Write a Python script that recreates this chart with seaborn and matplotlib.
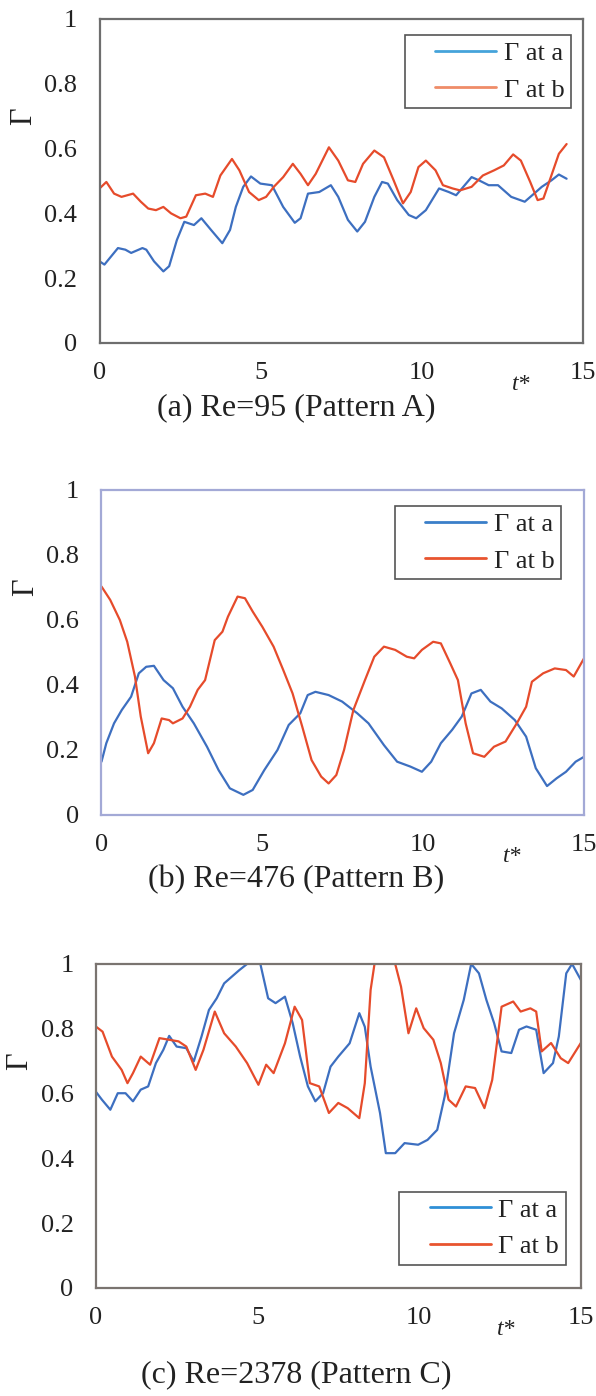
import numpy as np
import pandas as pd
import matplotlib.pyplot as plt
import seaborn as sns
from matplotlib.lines import Line2D
from matplotlib.legend_handler import HandlerLine2D
from matplotlib import transforms

sns.set_style('white')
plt.rcParams['font.family'] = ['Liberation Serif', 'DejaVu Serif']

# (a) Re=95 - Gamma at a / at b vs t*
t_a_a = [0, 0.15, 0.57, 0.8, 0.98, 1.33, 1.45, 1.69, 1.98, 2.16, 2.4, 2.63, 2.93, 3.16, 3.46,
         3.81, 4.05, 4.23, 4.46, 4.7, 4.99, 5.35, 5.7, 6.06, 6.24, 6.47, 6.82, 7.18, 7.41, 7.71,
         8.0, 8.24, 8.53, 8.77, 8.95, 9.24, 9.6, 9.83, 10.13, 10.54, 10.84, 11.07, 11.25, 11.55,
         11.78, 12.08, 12.37, 12.78, 13.2, 13.49, 13.73, 14.03, 14.26, 14.5]
g_a_a = [0.252, 0.242, 0.293, 0.288, 0.278, 0.293, 0.288, 0.252, 0.221, 0.237, 0.318, 0.374, 0.364,
         0.385, 0.349, 0.308, 0.349, 0.420, 0.482, 0.514, 0.492, 0.487, 0.420, 0.371, 0.385, 0.461,
         0.466, 0.487, 0.451, 0.380, 0.344, 0.374, 0.451, 0.497, 0.492, 0.441, 0.395, 0.385, 0.410,
         0.477, 0.466, 0.456, 0.477, 0.512, 0.502, 0.487, 0.487, 0.451, 0.436, 0.461, 0.482, 0.502,
         0.520, 0.507]
t_a_b = [0, 0.21, 0.45, 0.68, 1.04, 1.28, 1.51, 1.75, 1.98, 2.22, 2.51, 2.69, 2.99, 3.28, 3.52,
         3.75, 4.11, 4.34, 4.64, 4.94, 5.17, 5.41, 5.7, 6.0, 6.24, 6.47, 6.71, 7.12, 7.41, 7.71,
         7.94, 8.18, 8.53, 8.83, 9.13, 9.42, 9.66, 9.9, 10.13, 10.43, 10.66, 10.96, 11.19, 11.55,
         11.9, 12.25, 12.55, 12.84, 13.08, 13.37, 13.6, 13.78, 14.01, 14.26, 14.5]
g_a_b = [0.477, 0.497, 0.461, 0.451, 0.461, 0.436, 0.415, 0.410, 0.420, 0.400, 0.385, 0.390, 0.456,
         0.461, 0.451, 0.517, 0.568, 0.533, 0.466, 0.441, 0.451, 0.482, 0.512, 0.553, 0.522, 0.487,
         0.522, 0.604, 0.563, 0.502, 0.497, 0.553, 0.594, 0.573, 0.502, 0.431, 0.466, 0.543, 0.563,
         0.533, 0.487, 0.477, 0.471, 0.482, 0.517, 0.533, 0.548, 0.582, 0.563, 0.497, 0.441, 0.446,
         0.512, 0.584, 0.614]

# (b) Re=476
t_b_a = [0, 0.15, 0.39, 0.63, 0.92, 1.16, 1.39, 1.63, 1.93, 2.22, 2.52, 2.87, 3.28, 3.64, 3.99,
         4.41, 4.7, 5.06, 5.47, 5.82, 6.18, 6.41, 6.65, 7.06, 7.48, 7.95, 8.3, 8.78, 9.19, 9.6,
         9.96, 10.25, 10.55, 10.9, 11.2, 11.5, 11.79, 12.09, 12.44, 12.85, 13.2, 13.5, 13.85,
         14.15, 14.44, 14.74, 15]
g_b_a = [0.164, 0.221, 0.282, 0.323, 0.364, 0.436, 0.456, 0.459, 0.415, 0.390, 0.333, 0.282, 0.210,
         0.138, 0.082, 0.062, 0.077, 0.138, 0.200, 0.277, 0.313, 0.369, 0.379, 0.369, 0.349, 0.313,
         0.282, 0.215, 0.164, 0.149, 0.133, 0.164, 0.221, 0.262, 0.303, 0.374, 0.385, 0.349, 0.328,
         0.292, 0.241, 0.144, 0.089, 0.113, 0.133, 0.164, 0.179]
t_b_b = [0, 0.27, 0.57, 0.8, 1.04, 1.22, 1.45, 1.63, 1.87, 2.1, 2.22, 2.52, 2.75, 2.99, 3.22, 3.52,
         3.76, 3.93, 4.23, 4.46, 4.7, 5.0, 5.35, 5.65, 5.94, 6.24, 6.53, 6.83, 7.06, 7.3, 7.54,
         7.83, 8.19, 8.48, 8.78, 9.13, 9.49, 9.72, 9.96, 10.31, 10.55, 10.84, 11.08, 11.32, 11.55,
         11.9, 12.2, 12.56, 12.91, 13.2, 13.38, 13.73, 14.09, 14.44, 14.68, 15]
g_b_b = [0.703, 0.662, 0.600, 0.533, 0.426, 0.303, 0.190, 0.221, 0.297, 0.292, 0.282, 0.297, 0.333,
         0.385, 0.415, 0.538, 0.564, 0.610, 0.672, 0.667, 0.626, 0.579, 0.518, 0.446, 0.374, 0.272,
         0.169, 0.118, 0.097, 0.123, 0.200, 0.323, 0.415, 0.487, 0.518, 0.508, 0.487, 0.482, 0.508,
         0.533, 0.528, 0.467, 0.415, 0.282, 0.190, 0.179, 0.210, 0.226, 0.282, 0.333, 0.410, 0.436,
         0.451, 0.446, 0.426, 0.482]

# (c) Re=2378 (values above 1 are cut by the axis)
t_c_a = [0, 0.19, 0.45, 0.68, 0.92, 1.15, 1.39, 1.62, 1.86, 2.09, 2.27, 2.5, 2.8, 3.03, 3.27, 3.5,
         3.74, 3.97, 4.21, 4.44, 4.68, 4.9, 5.09, 5.33, 5.56, 5.85, 6.09, 6.32, 6.56, 6.79, 7.03,
         7.26, 7.5, 7.85, 8.15, 8.32, 8.5, 8.79, 8.97, 9.26, 9.55, 9.97, 10.26, 10.56, 10.79, 11.08,
         11.38, 11.61, 11.85, 12.08, 12.32, 12.55, 12.85, 13.09, 13.32, 13.62, 13.85, 14.14, 14.32,
         14.55, 14.73, 15]
g_c_a = [0.606, 0.581, 0.550, 0.601, 0.601, 0.576, 0.612, 0.622, 0.694, 0.735, 0.778, 0.745, 0.740,
         0.699, 0.776, 0.858, 0.894, 0.940, 0.961, 0.981, 1.0, 1.04, 1.0, 0.894, 0.879, 0.899, 0.817,
         0.714, 0.622, 0.576, 0.601, 0.683, 0.714, 0.755, 0.848, 0.806, 0.683, 0.540, 0.416, 0.416,
         0.447, 0.442, 0.457, 0.488, 0.591, 0.786, 0.889, 1.0, 0.971, 0.889, 0.817, 0.730, 0.725,
         0.797, 0.807, 0.797, 0.663, 0.694, 0.776, 0.971, 1.0, 0.951]
t_c_b = [0, 0.21, 0.5, 0.8, 0.98, 1.15, 1.39, 1.68, 1.97, 2.27, 2.56, 2.8, 3.09, 3.33, 3.68, 3.97,
         4.33, 4.68, 5.03, 5.27, 5.5, 5.85, 6.15, 6.38, 6.62, 6.91, 7.21, 7.5, 7.79, 8.15, 8.32,
         8.5, 8.62, 8.95, 9.26, 9.44, 9.67, 9.91, 10.14, 10.44, 10.67, 10.91, 11.14, 11.44, 11.73,
         12.02, 12.26, 12.55, 12.91, 13.14, 13.44, 13.62, 13.79, 14.08, 14.38, 14.61, 15]
g_c_b = [0.807, 0.791, 0.714, 0.673, 0.632, 0.663, 0.714, 0.689, 0.771, 0.766, 0.761, 0.745, 0.673,
         0.735, 0.853, 0.786, 0.745, 0.694, 0.627, 0.689, 0.663, 0.755, 0.868, 0.827, 0.632, 0.622,
         0.540, 0.571, 0.555, 0.524, 0.632, 0.920, 1.0, 1.1, 1.0, 0.930, 0.786, 0.863, 0.802, 0.766,
         0.694, 0.581, 0.560, 0.622, 0.617, 0.555, 0.642, 0.868, 0.884, 0.853, 0.863, 0.853, 0.730,
         0.756, 0.709, 0.694, 0.756]

captions = ['(a) Re=95 (Pattern A)', '(b) Re=476 (Pattern B)', '(c) Re=2378 (Pattern C)']
labels = ['\u0393 at a', '\u0393 at b']
x_ticks = [0, 5, 10, 15]
y_ticks = [0, 0.2, 0.4, 0.6, 0.8, 1]
y_ticklabels = ['0', '0.2', '0.4', '0.6', '0.8', '1']

BLUE = '#3d6fc0'
RED = '#e64b2b'
TXT = '#222222'

panels = [
    dict(ta=t_a_a, ga=g_a_a, tb=t_a_b, gb=g_a_b, rect=[0.1671, 0.7543, 0.8106, 0.2321],
         spine='#6e6e6e', cap_y=0.7077, tstar=13.1, loc='upper right', anchor=(0.976, 0.951),
         leg_cols=('#45a3da', '#ef8c68')),
    dict(ta=t_b_a, ga=g_b_a, tb=t_b_b, gb=g_b_b, rect=[0.1703, 0.4162, 0.8096, 0.2328],
         spine='#a3a9d6', cap_y=0.3696, tstar=12.76, loc='upper right', anchor=(0.952, 0.951),
         leg_cols=('#3a7fc9', '#e8542f')),
    dict(ta=t_c_a, ga=g_c_a, tb=t_c_b, gb=g_c_b, rect=[0.1607, 0.0774, 0.8138, 0.2321],
         spine='#7a7470', cap_y=0.0150, tstar=12.7, loc='lower right', anchor=(0.969, 0.071),
         leg_cols=('#2f8fd6', '#e8542f')),
]

fig = plt.figure(figsize=(5.96, 13.96), dpi=100)

for p, cap in zip(panels, captions):
    ax = fig.add_axes(p['rect'])
    sns.lineplot(x=p['ta'], y=p['ga'], ax=ax, color=BLUE, lw=1.6, label=labels[0],
                 sort=False, estimator=None)
    sns.lineplot(x=p['tb'], y=p['gb'], ax=ax, color=RED, lw=1.6, label=labels[1],
                 sort=False, estimator=None)
    ax.set_xlim(0, 15)
    ax.set_ylim(0, 1)
    ax.set_xticks(x_ticks)
    ax.set_xticklabels([str(v) for v in x_ticks])
    ax.set_yticks(y_ticks)
    ax.set_yticklabels(y_ticklabels)
    ax.tick_params(axis='both', direction='in', length=5, width=1, color=p['spine'],
                   labelcolor=TXT, labelsize=19)
    ax.tick_params(axis='y', pad=16)
    ax.tick_params(axis='x', pad=14)
    for s in ax.spines.values():
        s.set_color(p['spine'])
        s.set_linewidth(1.6)

    ax.set_xlabel('')
    ax.set_ylabel('\u0393', fontsize=22, color=TXT)
    ax.yaxis.set_label_coords(-0.128, 0.70)

    trans = transforms.blended_transform_factory(ax.transData, ax.transAxes)
    ax.text(p['tstar'], -0.128, 't*', transform=trans, style='italic', fontsize=17,
            color=TXT, ha='center', va='center')

    leg = ax.legend(loc=p['loc'], bbox_to_anchor=p['anchor'], borderaxespad=0, frameon=True,
                    fancybox=False, framealpha=1, edgecolor='#555555', fontsize=19,
                    handlelength=3.2, handletextpad=0.3, borderpad=0.25, labelspacing=0.5,
                    handler_map={Line2D: HandlerLine2D(xpad=0.9)})
    leg.get_frame().set_linewidth(1.2)
    for line, c in zip(leg.get_lines(), p['leg_cols']):
        line.set_color(c)
        line.set_linewidth(2)
    for t in leg.get_texts():
        t.set_color(TXT)

    fig.text(0.497, p['cap_y'], cap, ha='center', va='center', fontsize=23, color=TXT)

fig.savefig('out.png', dpi=100)
